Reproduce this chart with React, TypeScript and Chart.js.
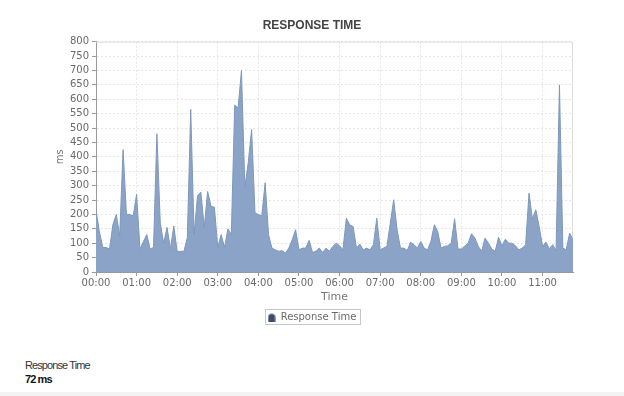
import React, { useEffect, useRef } from "react";
import { Chart, registerables } from "chart.js";

Chart.register(...registerables);

const title = "RESPONSE TIME";
const seriesName = "Response Time";
const yAxisTitle = "ms";
const xAxisTitle = "Time";
const tickLabels = ["00:00", "01:00", "02:00", "03:00", "04:00", "05:00", "06:00", "07:00", "08:00", "09:00", "10:00", "11:00"];
const intervalMinutes = 5;
const responseMs = [
  215, 140, 85, 85, 80, 165, 200, 125, 425, 200, 200, 195,
  270, 80, 105, 130, 80, 85, 480, 170, 100, 155, 80, 160,
  70, 72, 72, 120, 565, 130, 265, 277, 155, 280, 228, 225,
  85, 130, 85, 150, 130, 580, 570, 700, 295, 380, 495, 205,
  200, 195, 310, 130, 83, 77, 72, 74, 66, 83, 112, 147,
  77, 83, 83, 110, 68, 72, 83, 68, 83, 72, 89, 100,
  91, 77, 187, 164, 158, 83, 97, 77, 83, 77, 95, 187,
  77, 83, 89, 170, 251, 147, 83, 83, 75, 103, 95, 83,
  106, 83, 77, 106, 164, 141, 83, 89, 91, 100, 185, 80,
  80, 90, 100, 133, 118, 89, 72, 118, 100, 80, 72, 121,
  90, 114, 100, 100, 91, 77, 83, 95, 274, 184, 216, 158,
  89, 104, 81, 95, 75, 650, 83, 77, 135, 112,
];
const summaryLabel = "Response Time";
const summaryValue = "72 ms";

function makeIcon(): HTMLCanvasElement {
  const c = document.createElement("canvas");
  c.width = 8;
  c.height = 9;
  const g = c.getContext("2d")!;
  g.fillStyle = "#3d4d6b";
  g.beginPath();
  g.moveTo(0.5, 9);
  g.lineTo(0.5, 4.5);
  g.bezierCurveTo(0.5, 0.3, 7.5, 0.3, 7.5, 4.5);
  g.lineTo(7.5, 9);
  g.closePath();
  g.fill();
  return c;
}

const frame = {
  id: "frame",
  beforeDatasetsDraw(chart: any) {
    const { ctx, chartArea: a } = chart;
    ctx.save();
    ctx.strokeStyle = "#dcdcdc";
    ctx.lineWidth = 1;
    ctx.beginPath();
    ctx.moveTo(a.left, a.top + 0.5);
    ctx.lineTo(a.right - 0.5, a.top + 0.5);
    ctx.lineTo(a.right - 0.5, a.bottom);
    ctx.stroke();
    ctx.restore();
  },
  afterDraw(chart: any) {
    const lg = chart.legend;
    if (!lg || !lg.legendHitBoxes || !lg.legendHitBoxes.length) return;
    const hb = lg.legendHitBoxes[0];
    const { ctx } = chart;
    ctx.save();
    ctx.strokeStyle = "#c8c8c8";
    ctx.lineWidth = 1;
    ctx.strokeRect(Math.round(hb.left - 3) + 0.5, Math.round(hb.top - 3) + 0.5, Math.round(hb.width + 6), Math.round(hb.height + 5));
    ctx.restore();
  },
};

export default function App() {
  const ref = useRef<HTMLCanvasElement>(null);
  useEffect(() => {
    const data = responseMs.map((v, i) => ({ x: i * intervalMinutes, y: v }));
    const maxX = (responseMs.length - 1) * intervalMinutes;
    const chart = new Chart(ref.current!, {
      type: "line",
      data: {
        datasets: [
          {
            label: seriesName,
            data,
            fill: "origin",
            backgroundColor: "#8aa3c6",
            borderColor: "#7e98be",
            borderWidth: 1,
            pointRadius: 0,
            tension: 0,
          },
        ],
      },
      options: {
        animation: false,
        responsive: false,
        devicePixelRatio: 1,
        layout: { padding: { left: 51, right: 51, top: 0, bottom: 8 } },
        plugins: {
          tooltip: { enabled: false },
          title: {
            display: true,
            text: title,
            color: "#444",
            font: { family: "'Liberation Sans', Arial, sans-serif", size: 12, weight: "bold" },
            padding: { top: 18.5, bottom: 8.8 },
          },
          legend: {
            position: "bottom",
            labels: {
              usePointStyle: true,
              pointStyle: makeIcon(),
              boxWidth: 8,
              padding: 8,
              color: "#6a6a6a",
              font: { family: "'DejaVu Sans', sans-serif", size: 10 },
            },
          },
        },
        scales: {
          x: {
            type: "linear",
            min: 0,
            max: maxX,
            afterFit: (s: any) => {
              s.height = 32;
            },
            ticks: {
              stepSize: 60,
              includeBounds: false,
              maxRotation: 0,
              autoSkip: false,
              padding: 1,
              color: "#6a6a6a",
              font: { family: "'DejaVu Sans', sans-serif", size: 10 },
              callback: (v: any) => tickLabels[Math.round(v / 60)] ?? "",
            },
            grid: { color: "#e6e6e6", tickColor: "#999", tickLength: 4, tickBorderDash: [] },
            border: { color: "#999", dash: [2, 2] },
            title: {
              display: true,
              text: xAxisTitle,
              color: "#777",
              font: { family: "'DejaVu Sans', sans-serif", size: 11 },
              padding: { top: 0, bottom: 0 },
            },
          },
          y: {
            min: 0,
            max: 800,
            afterFit: (s: any) => {
              s.width = 45;
            },
            ticks: {
              stepSize: 50,
              autoSkip: false,
              padding: 3,
              color: "#6a6a6a",
              font: { family: "'DejaVu Sans', sans-serif", size: 10 },
            },
            grid: { color: "#e6e6e6", tickColor: "#999", tickLength: 4, tickBorderDash: [] },
            border: { color: "#999", dash: [2, 2] },
            title: {
              display: true,
              text: yAxisTitle,
              color: "#777",
              font: { family: "'DejaVu Sans', sans-serif", size: 10 },
              padding: { top: 3.5, bottom: 0 },
            },
          },
        },
      },
      plugins: [frame],
    });
    return () => chart.destroy();
  }, []);

  return (
    <div style={{ position: "absolute", left: 0, top: 0, width: 624, height: 396, background: "#fff", overflow: "hidden" }}>
      <canvas ref={ref} width={624} height={340} style={{ position: "absolute", left: 0, top: 0, width: 624, height: 340 }} />
      <div
        style={{
          position: "absolute",
          left: 25,
          top: 358,
          font: "11px 'Liberation Sans', Arial, sans-serif",
          letterSpacing: "-0.9px",
          color: "#333",
          lineHeight: "14px",
        }}
      >
        {summaryLabel}
      </div>
      <div
        style={{
          position: "absolute",
          left: 25,
          top: 372,
          font: "bold 11px 'Liberation Sans', Arial, sans-serif",
          letterSpacing: "-0.9px",
          color: "#111",
          lineHeight: "14px",
        }}
      >
        {summaryValue}
      </div>
      <div style={{ position: "absolute", left: 0, top: 392, width: 624, height: 4, background: "#f3f3f3" }} />
    </div>
  );
}
